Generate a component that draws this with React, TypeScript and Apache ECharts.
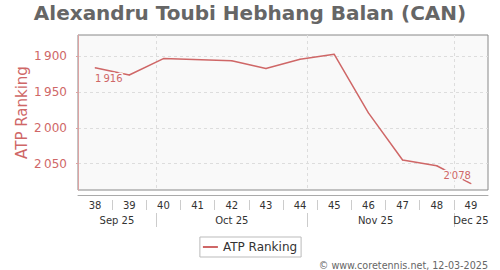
import React, { useEffect, useRef } from "react";
import * as echarts from "echarts";

const titleText = "Alexandru Toubi Hebhang Balan (CAN)";
const seriesName = "ATP Ranking";
const weeks = ["38", "39", "40", "41", "42", "43", "44", "45", "46", "47", "48", "49"];
const ranking: (number | null)[] = [1916, 1926, 1903, null, 1906, 1917, 1904, 1897, 1979, 2045, 2053, 2078];
const yTicks = [1900, 1950, 2000, 2050];
const yMin = 1870;
const yMax = 2087;
const monthLabels = ["Sep 25", "Oct 25", "Nov 25", "Dec 25"];
const monthCenters = [1.14, 4.5, 8.71, 11.5];
const monthBounds = [2.286, 6.714, 11];
const credit = "\u00a9 www.coretennis.net, 12-03-2025";

const RED = "#cf6767";
const FONT = "DejaVu Sans";

const fmtNum = (v: number) => {
  const s = String(v);
  return s.length > 3 ? s.slice(0, s.length - 3) + "\u2009" + s.slice(s.length - 3) : s;
};

export default function App() {
  const ref = useRef<HTMLDivElement>(null);
  useEffect(() => {
    if (!ref.current) return;
    const chart = echarts.init(ref.current, null, { renderer: "svg" });
    const lastIdx = ranking.length - 1;
    const data = ranking.map((v, i) => {
      if (i === 0 && v != null) {
        return {
          value: v,
          label: { show: true, position: "bottom", align: "left", distance: 5 },
        };
      }
      if (i === lastIdx && v != null) {
        return {
          value: v,
          label: { show: true, position: "top", align: "right", distance: 3 },
        };
      }
      return v;
    });
    const weekSeps = weeks.slice(1).map((_, i) => i + 1);
    chart.setOption({
      animation: false,
      textStyle: { fontFamily: FONT },
      title: {
        text: titleText,
        left: "center",
        top: 0,
        padding: [3, 5, 5, 5],
        textStyle: { fontFamily: FONT, fontSize: 20, fontWeight: "bold", color: "#666" },
      },
      legend: {
        data: [{ name: seriesName, icon: "rect" }],
        left: "center",
        top: 237,
        borderColor: "#bbb",
        borderWidth: 1,
        padding: [4, 4, 4, 3],
        itemWidth: 15,
        itemHeight: 2,
        itemGap: 5,
        textStyle: { fontFamily: FONT, fontSize: 12, color: "#333" },
      },
      graphic: [
        {
          type: "text",
          right: 12,
          top: 260,
          style: { text: credit, fontFamily: FONT, fontSize: 9.6, fill: "#666" },
        },
      ],
      grid: {
        show: true,
        left: 78,
        right: 12,
        top: 35,
        bottom: 80,
        borderColor: "#888",
        borderWidth: 1,
        backgroundColor: "#f9f9f9",
      },
      xAxis: [
        {
          type: "category",
          data: weeks,
          position: "bottom",
          offset: 5,
          boundaryGap: true,
          axisLine: { show: true, lineStyle: { color: "#aaa", width: 1 } },
          axisTick: { show: false },
          axisLabel: { color: "#333", fontSize: 10, margin: 5, fontFamily: FONT },
          splitLine: { show: false },
        },
        {
          type: "value",
          min: 0,
          max: weeks.length,
          position: "bottom",
          offset: 23,
          axisLine: { show: false },
          axisTick: {
            show: true,
            customValues: monthBounds,
            length: 14,
            inside: false,
            lineStyle: { color: "#ccc" },
          },
          axisLabel: {
            show: true,
            customValues: monthCenters,
            margin: 2,
            color: "#333",
            fontSize: 10,
            fontFamily: FONT,
            formatter: (v: number) => {
              let best = 0;
              monthCenters.forEach((c, i) => {
                if (Math.abs(c - v) < Math.abs(monthCenters[best] - v)) best = i;
              });
              return monthLabels[best];
            },
          },
          splitLine: { show: true, lineStyle: { color: "#ddd", type: [3, 3] } },
        },
        {
          type: "value",
          min: 0,
          max: weeks.length,
          position: "bottom",
          offset: 10,
          axisLine: { show: false },
          axisTick: {
            show: true,
            customValues: weekSeps,
            length: 10,
            lineStyle: { color: "#ccc" },
          },
          axisLabel: { show: false },
          splitLine: { show: false },
        },
      ],
      yAxis: {
        type: "value",
        inverse: true,
        min: yMin,
        max: yMax,
        position: "left",
        offset: 5,
        name: seriesName,
        nameLocation: "middle",
        nameGap: 44,
        nameMoveOverlap: false,
        nameTextStyle: { color: RED, fontSize: 15, fontFamily: FONT },
        axisLine: { show: true, lineStyle: { color: "#dca3a3", width: 1 } },
        axisTick: {
          show: true,
          customValues: yTicks,
          length: 2,
          lineStyle: { color: "#dca3a3" },
        },
        axisLabel: {
          customValues: yTicks,
          color: RED,
          fontSize: 12,
          margin: 6,
          fontFamily: FONT,
          formatter: (v: number) => fmtNum(v),
        },
        splitLine: { show: true, lineStyle: { color: "#ddd", type: [3, 3] } },
      },
      series: [
        {
          name: seriesName,
          type: "line",
          xAxisIndex: 0,
          data,
          connectNulls: true,
          symbol: "circle",
          symbolSize: 1,
          showSymbol: true,
          lineStyle: { color: RED, width: 1.5 },
          itemStyle: { color: RED },
          label: {
            show: false,
            color: RED,
            fontSize: 10,
            fontFamily: FONT,
            textBorderColor: "#f9f9f9",
            textBorderWidth: 3,
            formatter: (p: any) => fmtNum(p.value),
          },
        },
      ],
    });
    return () => chart.dispose();
  }, []);
  return (
    <div
      ref={ref}
      style={{ position: "fixed", left: 0, top: 0, width: 500, height: 270, background: "#fff" }}
    />
  );
}
